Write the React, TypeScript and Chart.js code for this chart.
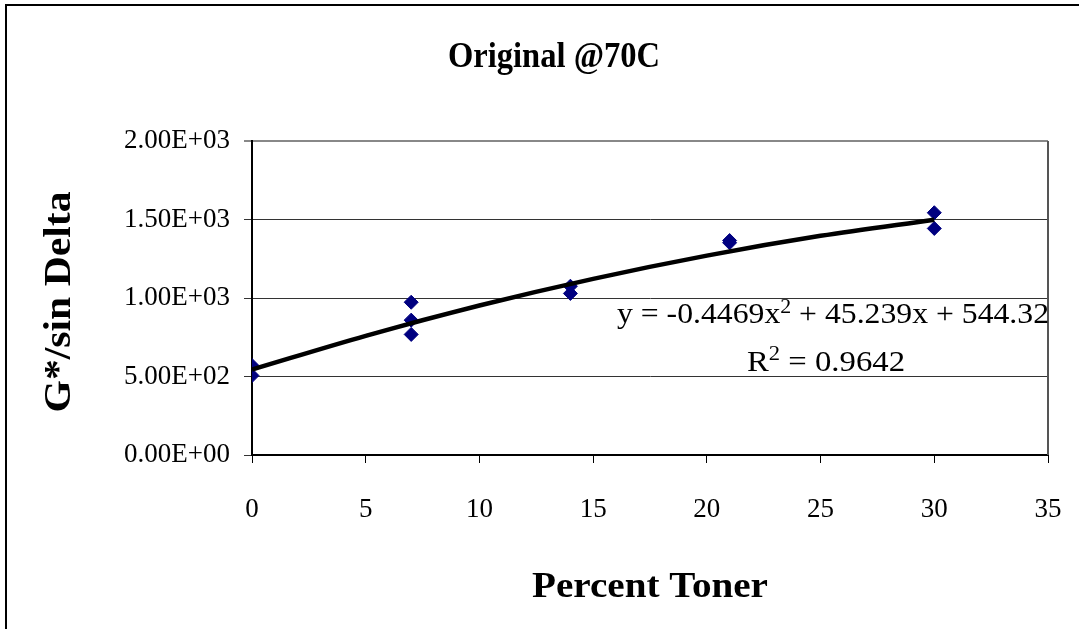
import React, { useEffect, useRef } from "react";
import { Chart, registerables } from "chart.js";

Chart.register(...registerables);

const chartTitle = "Original @70C";
const xAxisTitle = "Percent Toner";
const yAxisTitle = "G*/sin Delta";

const toner = [0, 0, 7, 7, 7, 14, 14, 21, 21, 30, 30];
const gStarSinDelta = [570, 506, 973, 859, 768, 1075, 1029, 1366, 1352, 1543, 1443];

const trendX = [0, 5, 10, 15, 20, 25, 30];
const trendY = [544, 759, 952, 1122, 1270, 1396, 1499];

const yTickLabels = ["0.00E+00", "5.00E+02", "1.00E+03", "1.50E+03", "2.00E+03"];
const xTickStep = 5;

const equationParts = [
  { text: "y = -0.4469x", sup: false },
  { text: "2", sup: true },
  { text: " + 45.239x + 544.32", sup: false },
];
const rSquaredParts = [
  { text: "R", sup: false },
  { text: "2", sup: true },
  { text: " = 0.9642", sup: false },
];

const SERIF = "'Liberation Serif', 'Times New Roman', serif";

function drawFitted(ctx, text, cx, baseline, font, targetWidth, rotate) {
  ctx.save();
  ctx.font = font;
  const w = ctx.measureText(text).width;
  const sx = targetWidth / w;
  ctx.translate(cx, baseline);
  if (rotate) ctx.rotate(-Math.PI / 2);
  ctx.scale(sx, 1);
  ctx.textAlign = "center";
  ctx.textBaseline = "alphabetic";
  ctx.fillStyle = "#000";
  ctx.fillText(text, 0, 0);
  ctx.restore();
}

function drawRich(ctx, parts, cx, baseline, supBaseline, targetWidth) {
  const mainFont = `29px ${SERIF}`;
  const supFont = `20px ${SERIF}`;
  ctx.save();
  let total = 0;
  const widths = parts.map((p) => {
    ctx.font = p.sup ? supFont : mainFont;
    const w = ctx.measureText(p.text).width;
    total += w;
    return w;
  });
  const sx = targetWidth / total;
  ctx.translate(cx - targetWidth / 2, 0);
  ctx.scale(sx, 1);
  ctx.fillStyle = "#000";
  ctx.textAlign = "left";
  ctx.textBaseline = "alphabetic";
  let x = 0;
  parts.forEach((p, i) => {
    ctx.font = p.sup ? supFont : mainFont;
    ctx.fillText(p.text, x, p.sup ? supBaseline : baseline);
    x += widths[i];
  });
  ctx.restore();
}

const decorPlugin = {
  id: "decor",
  beforeDraw(chart) {
    const ctx = chart.ctx;
    ctx.save();
    ctx.fillStyle = "#fff";
    ctx.fillRect(0, 0, chart.width, chart.height);
    ctx.restore();
  },
  afterDraw(chart) {
    const ctx = chart.ctx;
    const area = chart.chartArea;
    ctx.save();
    ctx.strokeStyle = "#000";
    ctx.lineWidth = 2;
    ctx.beginPath();
    ctx.moveTo(6, chart.height + 5);
    ctx.lineTo(6, 5);
    ctx.lineTo(chart.width + 5, 5);
    ctx.stroke();
    ctx.strokeStyle = "#555";
    ctx.lineWidth = 2;
    ctx.beginPath();
    ctx.moveTo(area.right, area.top);
    ctx.lineTo(area.right, area.bottom);
    ctx.stroke();
    ctx.restore();

    drawFitted(ctx, chartTitle, 554, 67, `bold 35px ${SERIF}`, 212, false);
    drawFitted(ctx, xAxisTitle, 650, 597, `bold 35px ${SERIF}`, 236, false);
    drawFitted(ctx, yAxisTitle, 70, 302, `bold 37px ${SERIF}`, 221, true);

    drawRich(ctx, equationParts, 833, 323, 313, 432);
    drawRich(ctx, rSquaredParts, 826, 371, 360, 158);
  },
};

export default function App() {
  const ref = useRef(null);
  useEffect(() => {
    const canvas = ref.current;
    const chart = new Chart(canvas, {
      type: "scatter",
      data: {
        datasets: [
          {
            label: "Trend",
            data: trendX.map((x, i) => ({ x, y: trendY[i] })),
            showLine: true,
            borderColor: "#000",
            borderWidth: 4.5,
            pointRadius: 0,
            cubicInterpolationMode: "monotone",
            fill: false,
          },
          {
            label: "Data",
            data: toner.map((x, i) => ({ x, y: gStarSinDelta[i] })),
            pointStyle: "rectRot",
            pointRadius: 7,
            backgroundColor: "#000080",
            borderColor: "#000080",
            borderWidth: 1,
          },
        ],
      },
      options: {
        animation: false,
        responsive: false,
        devicePixelRatio: 1,
        layout: { padding: { top: 141, right: 31, left: 0, bottom: 0 } },
        plugins: {
          legend: { display: false },
          title: { display: false },
          tooltip: { enabled: false },
        },
        scales: {
          x: {
            type: "linear",
            min: 0,
            max: 35,
            ticks: {
              stepSize: xTickStep,
              color: "#000",
              font: { family: SERIF, size: 27 },
              padding: 31,
            },
            grid: {
              drawOnChartArea: false,
              drawTicks: true,
              tickLength: 8,
              color: "#000",
            },
            border: { display: true, color: "#000", width: 2 },
            afterFit(scale) {
              scale.height = 629 - 455;
              scale.paddingLeft = 0;
              scale.paddingRight = 0;
            },
          },
          y: {
            type: "linear",
            min: 0,
            max: 2000,
            ticks: {
              stepSize: 500,
              color: "#000",
              font: { family: SERIF, size: 27 },
              padding: 14,
              callback: (v, i) => yTickLabels[i],
            },
            grid: {
              drawTicks: true,
              tickLength: 8,
              color: (c) => (c.tick && c.tick.value === 2000 ? "#888" : "#333"),
              lineWidth: (c) => (c.tick && c.tick.value === 2000 ? 2 : 1),
            },
            border: { display: true, color: "#000", width: 2 },
            afterFit(scale) {
              scale.width = 252;
            },
          },
        },
      },
      plugins: [decorPlugin],
    });
    return () => chart.destroy();
  }, []);
  return (
    <div style={{ position: "absolute", left: 0, top: 0, width: 1079, height: 629, background: "#fff" }}>
      <canvas ref={ref} width={1079} height={629} style={{ display: "block" }} />
    </div>
  );
}
